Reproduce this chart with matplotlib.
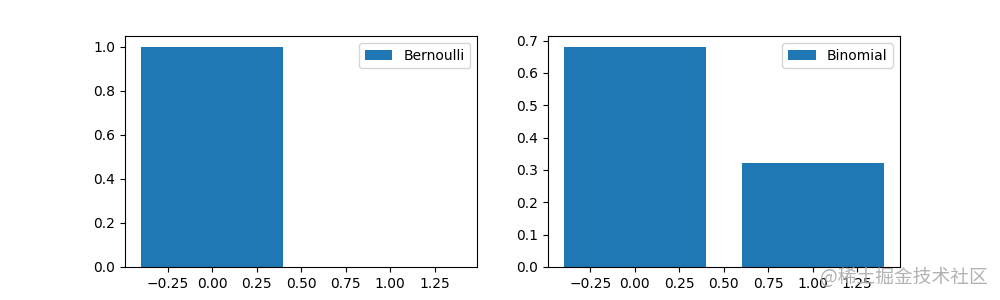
import numpy as np
import matplotlib
matplotlib.use("Agg")
from matplotlib import pyplot as plt

# values
x_vals = [0, 1]
bernoulli = [1.0, 0.0]
binomial = [0.68, 0.32]

fig = plt.figure(figsize=(10, 3), dpi=100)

ax1 = fig.add_subplot(1, 2, 1)
ax1.bar(x_vals, bernoulli, label="Bernoulli")
ax1.legend()

ax2 = fig.add_subplot(1, 2, 2)
ax2.bar(x_vals, binomial, label="Binomial")
ax2.legend()

# watermark in the corner
fig.text(0.988, 0.075, "@稀土掘金技术社区", ha="right", va="center",
         fontsize=13.5, color="#aaaaaa", alpha=0.9,
         family=["Noto Sans CJK SC", "DejaVu Sans"])

fig.savefig("out.png", dpi=100)
